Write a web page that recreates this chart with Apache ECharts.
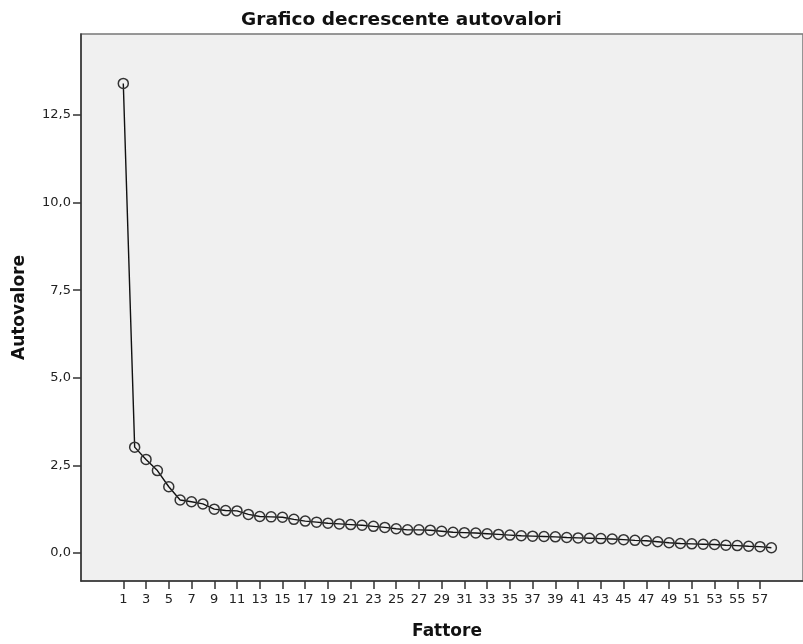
<!DOCTYPE html>
<html>
<head>
<meta charset="utf-8">
<script src="https://cdn.jsdelivr.net/npm/echarts@6/dist/echarts.min.js"></script>
<style>html,body{margin:0;padding:0;background:#fff}#c{width:803px;height:644px}</style>
</head>
<body>
<div id="c"></div>
<script>
const factors = Array.from({length: 58}, (_, i) => i + 1);
const eigenvalues = [13.40, 3.02, 2.67, 2.35, 1.89, 1.51, 1.46, 1.40, 1.25, 1.21,
  1.20, 1.10, 1.04, 1.03, 1.02, 0.96, 0.91, 0.88, 0.85, 0.83,
  0.81, 0.79, 0.76, 0.73, 0.69, 0.66, 0.66, 0.65, 0.62, 0.59,
  0.58, 0.57, 0.55, 0.53, 0.51, 0.49, 0.48, 0.47, 0.46, 0.44,
  0.43, 0.42, 0.41, 0.40, 0.38, 0.36, 0.35, 0.32, 0.29, 0.27,
  0.26, 0.25, 0.24, 0.22, 0.21, 0.19, 0.18, 0.15];
const xTicks = [1,3,5,7,9,11,13,15,17,19,21,23,25,27,29,31,33,35,37,39,41,43,45,47,49,51,53,55,57];
const yTicks = [0, 2.5, 5, 7.5, 10, 12.5];

const chart = echarts.init(document.getElementById('c'), null, {renderer: 'canvas'});
const font = 'DejaVu Sans';
chart.setOption({
  animation: false,
  backgroundColor: '#ffffff',
  title: {
    text: 'Grafico decrescente autovalori',
    left: 'center', top: 6,
    textStyle: {fontFamily: font, fontSize: 18.5, fontWeight: 'bold', color: '#111'}
  },
  grid: {
    left: 81, top: 34, right: 0, bottom: 63,
    outerBoundsMode: 'none', containLabel: false,
    show: true, backgroundColor: '#f0f0f0', borderColor: '#777', borderWidth: 1.5
  },
  xAxis: {
    type: 'value', min: -2.72, max: 60.78,
    name: 'Fattore', nameLocation: 'middle', nameGap: 42,
    nameTextStyle: {fontFamily: font, fontSize: 17, fontWeight: 'bold', color: '#111', padding: [0, 0, 0, 10]},
    axisLine: {show: true, onZero: false, lineStyle: {color: '#333', width: 1.5}},
    axisTick: {show: true, length: 8, customValues: xTicks, lineStyle: {color: '#333', width: 1.5}},
    axisLabel: {customValues: xTicks, margin: 12, fontFamily: font, fontSize: 13, color: '#222'},
    splitLine: {show: false}
  },
  yAxis: {
    type: 'value', min: -0.8, max: 14.81,
    name: 'Autovalore', nameLocation: 'middle', nameGap: 53,
    nameTextStyle: {fontFamily: font, fontSize: 17, fontWeight: 'bold', color: '#111'},
    axisLine: {show: true, onZero: false, lineStyle: {color: '#333', width: 1.5}},
    axisTick: {show: true, length: 8, customValues: yTicks, lineStyle: {color: '#333', width: 1.5}},
    axisLabel: {customValues: yTicks, margin: 10, fontFamily: font, fontSize: 13, color: '#222',
      formatter: v => v.toFixed(1).replace('.', ',')},
    splitLine: {show: false}
  },
  series: [{
    type: 'line',
    data: factors.map((f, i) => [f, eigenvalues[i]]),
    symbol: 'circle', symbolSize: 10,
    lineStyle: {color: '#111', width: 1.4},
    itemStyle: {color: 'rgba(0,0,0,0)', borderColor: '#333', borderWidth: 1.5},
    emphasis: {disabled: true}
  }]
});
</script>
</body>
</html>
